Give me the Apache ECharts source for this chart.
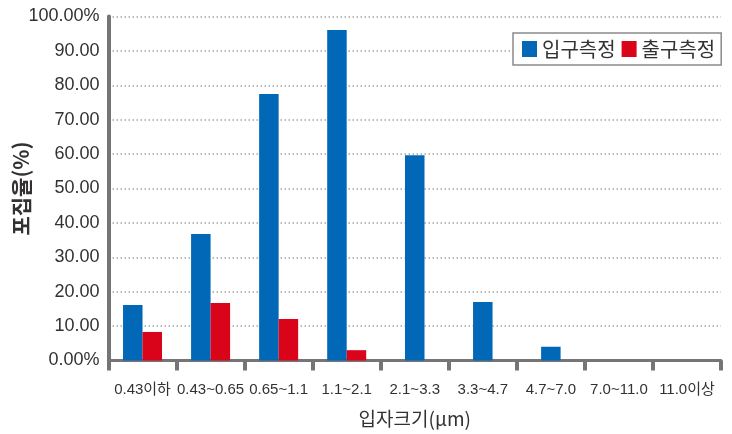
<!DOCTYPE html>
<html>
<head>
<meta charset="utf-8">
<script src="https://cdn.jsdelivr.net/npm/echarts@6/dist/echarts.min.js"></script>
<style>
html,body{margin:0;padding:0;background:#fff;}
#chart{width:732px;height:434px;}
</style>
</head>
<body>
<div id="chart"></div>
<script>
var categories = ['0.43이하', '0.43~0.65', '0.65~1.1', '1.1~2.1', '2.1~3.3', '3.3~4.7', '4.7~7.0', '7.0~11.0', '11.0이상'];
var inlet = [16.1, 36.8, 77.5, 96.1, 59.7, 17.0, 4.0, 0, 0];
var outlet = [8.3, 16.7, 12.1, 3.0, 0, 0, 0, 0, 0];
var yTickLabels = ['0.00%', '10.00', '20.00', '30.00', '40.00', '50.00', '60.00', '70.00', '80.00', '90.00', '100.00%'];
var seriesNames = ['입구측정', '출구측정'];

// bars with a partner are drawn side by side; a lone inlet bar is centred in its category
var inletPaired = inlet.map(function (v, i) { return outlet[i] > 0 ? v : null; });
var inletSingle = inlet.map(function (v, i) { return outlet[i] > 0 ? null : (v > 0 ? v : null); });
var outletShown = outlet.map(function (v) { return v > 0 ? v : null; });

var FONT = "'Liberation Sans', 'Noto Sans CJK KR', sans-serif";
var KFONT = "'Noto Sans CJK KR', 'Liberation Sans', sans-serif";
var BLUE = '#0068B7';
var RED = '#D9031A';
var AXIS = '#767476';
var TEXT = '#333132';

var chart = echarts.init(document.getElementById('chart'), null, {renderer: 'canvas'});
chart.setOption({
  animation: false,
  backgroundColor: '#ffffff',
  grid: {left: 108.5, right: 11, top: 16.5, bottom: 73.5, containLabel: false, outerBoundsMode: 'none'},
  legend: {
    data: seriesNames,
    left: 513, top: 33,
    padding: [6, 6, 6, 9],
    itemWidth: 15, itemHeight: 16, itemGap: 6,
    borderColor: '#8a8a8a', borderWidth: 1.5,
    backgroundColor: '#ffffff',
    icon: 'rect',
    textStyle: {fontFamily: KFONT, fontSize: 20, color: TEXT, padding: [0, 0, 0, 0]}
  },
  xAxis: [{
    type: 'category',
    data: categories,
    name: '입자크기(μm)',
    nameLocation: 'middle',
    nameGap: 49,
    nameMoveOverlap: false,
    nameTextStyle: {fontFamily: KFONT, fontSize: 19, color: TEXT},
    axisLine: {show: true, lineStyle: {color: AXIS, width: 3}},
    axisTick: {show: true, length: 10, lineStyle: {color: AXIS, width: 4}},
    axisLabel: {fontFamily: FONT, fontSize: 15, color: TEXT, margin: 22, interval: 0},
    splitLine: {show: false}
  }, {
    type: 'category',
    data: categories,
    show: false
  }],
  yAxis: {
    type: 'value',
    min: 0, max: 100, interval: 10,
    name: '포집율(%)',
    nameLocation: 'middle',
    nameGap: 77,
    nameMoveOverlap: false,
    nameTextStyle: {fontFamily: KFONT, fontSize: 21, fontWeight: 'bold', color: TEXT},
    axisLine: {show: true, lineStyle: {color: AXIS, width: 4}},
    axisTick: {show: false},
    axisLabel: {
      fontFamily: FONT, fontSize: 18, color: TEXT, margin: 9,
      formatter: function (v) { return yTickLabels[Math.round(v / 10)]; }
    },
    splitLine: {show: true, lineStyle: {color: '#a6a6a6', width: 1.5, type: [1.5, 2.5]}}
  },
  series: [{
    name: seriesNames[0], type: 'bar', xAxisIndex: 0,
    data: inletPaired, barWidth: 19.5, barGap: '0%',
    itemStyle: {color: BLUE}
  }, {
    name: seriesNames[1], type: 'bar', xAxisIndex: 0,
    data: outletShown, barWidth: 19.5, barGap: '0%',
    itemStyle: {color: RED}
  }, {
    name: seriesNames[0], type: 'bar', xAxisIndex: 1,
    data: inletSingle, barWidth: 19.5,
    itemStyle: {color: BLUE}
  }]
});
</script>
</body>
</html>
